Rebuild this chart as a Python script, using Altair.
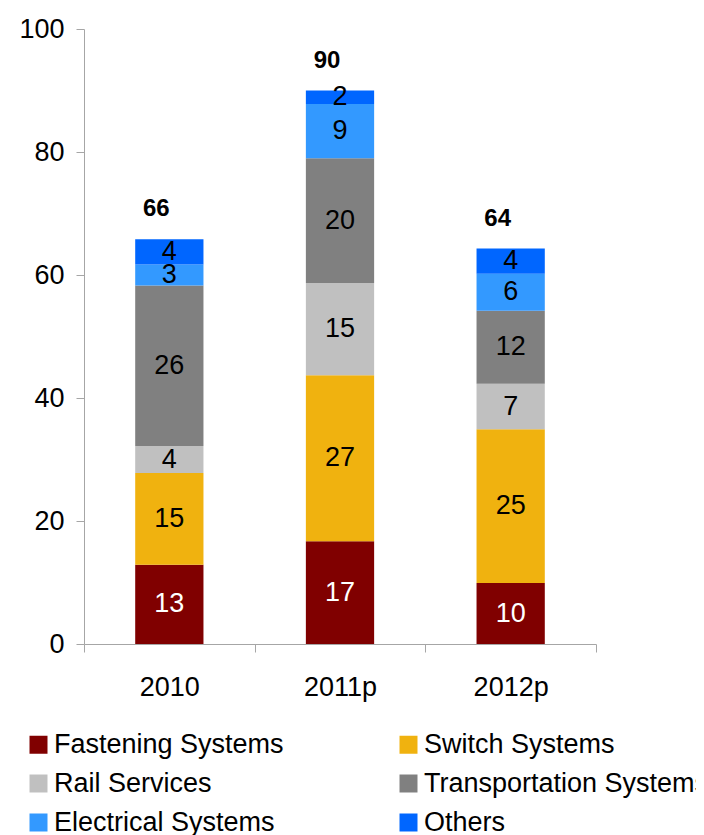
import altair as alt
import pandas as pd

years = ["2010", "2011p", "2012p"]
series = ["Fastening Systems", "Switch Systems", "Rail Services",
          "Transportation Systems", "Electrical Systems", "Others"]
colors = ["#800000", "#F0B20F", "#C0C0C0", "#808080", "#3399FF", "#0066FF"]
label_colors = ["white", "black", "black", "black", "black", "black"]

fastening = [12.9, 16.7, 9.9]
switch = [14.9, 27.0, 25.0]
rail = [4.4, 15.0, 7.4]
transport = [26.1, 20.3, 11.9]
electrical = [3.4, 8.8, 6.0]
others = [4.1, 2.2, 4.1]

values = [fastening, switch, rail, transport, electrical, others]

rows = []
for yi, yr in enumerate(years):
    cum = 0.0
    for si, s in enumerate(series):
        v = values[si][yi]
        rows.append({"year": yr, "series": s, "order": si, "value": v,
                     "mid": cum + v / 2, "lc": label_colors[si]})
        cum += v
df = pd.DataFrame(rows)
tot = df.groupby("year", as_index=False)["value"].sum().rename(columns={"value": "total"})

FONT = "Liberation Sans"

x = alt.X("year:N", sort=years, title=None,
          scale=alt.Scale(paddingInner=0, paddingOuter=0),
          axis=alt.Axis(labelAngle=0, tickBand="extent", tickSize=8,
                        domainColor="#A6A6A6", tickColor="#A6A6A6",
                        labelFontSize=27, labelColor="black", labelPadding=22,
                        labelFont=FONT))

bars = alt.Chart(df).mark_bar(width=alt.RelativeBandSize(0.4)).encode(
    x=x,
    y=alt.Y("sum(value):Q", title=None, stack="zero",
            scale=alt.Scale(domain=[0, 100], nice=False),
            axis=alt.Axis(values=[0, 20, 40, 60, 80, 100], grid=False, tickSize=8,
                          domainColor="#A6A6A6", tickColor="#A6A6A6",
                          labelFontSize=27, labelColor="black", labelPadding=12,
                          labelFont=FONT)),
    color=alt.Color("series:N", scale=alt.Scale(domain=series, range=colors),
                    legend=alt.Legend(orient="none", legendX=-59, legendY=702,
                                      columns=2, direction="horizontal",
                                      title=None, symbolType="square",
                                      symbolSize=324, symbolStrokeWidth=0,
                                      labelFontSize=27, labelFont=FONT,
                                      labelColor="black", labelOffset=2,
                                      columnPadding=111, rowPadding=11,
                                      padding=0, labelLimit=400)),
    order=alt.Order("order:Q", sort="ascending"),
)

seg = alt.Chart(df).mark_text(fontSize=27, font=FONT, baseline="middle").encode(
    x=alt.X("year:N", sort=years),
    y=alt.Y("mid:Q"),
    text=alt.Text("value:Q", format=".0f"),
    color=alt.Color("lc:N", scale=None),
)

totals = alt.Chart(tot).mark_text(fontSize=24, font=FONT, fontWeight="bold",
                                  baseline="middle", dy=-30, dx=-13).encode(
    x=alt.X("year:N", sort=years),
    y=alt.Y("total:Q"),
    text=alt.Text("total:Q", format=".0f"),
)

chart = alt.layer(bars, seg, totals).properties(
    width=512, height=615,
    padding={"left": 76, "top": 21, "right": 100, "bottom": 191},
    autosize=alt.AutoSizeParams(type="none"),
).configure(font=FONT).configure_view(stroke=None)

chart.save("out.html", embed_options={"renderer": "svg", "actions": False})
